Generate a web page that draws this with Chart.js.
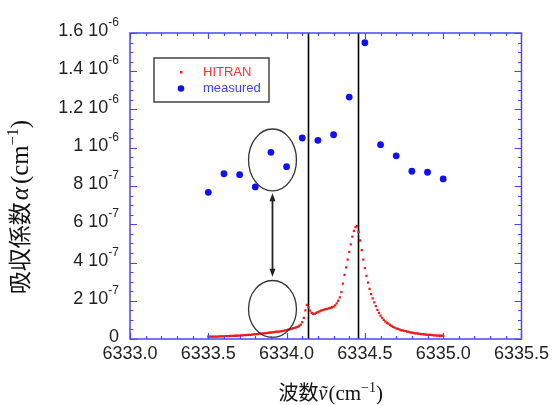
<!DOCTYPE html>
<html lang="ja">
<head>
<meta charset="UTF-8">
<title>吸収係数</title>
<script src="https://cdn.jsdelivr.net/npm/chart.js"></script>
<style>
  html, body { margin: 0; padding: 0; background: #fff; }
  #c { display: block; }
</style>
</head>
<body>
<canvas id="c" width="553" height="405"></canvas>
<script>
// measured absorption coefficient, in units of 10^-6 cm^-1
const measuredX = [6333.5, 6333.6, 6333.7, 6333.8, 6333.9, 6334.0, 6334.1, 6334.2,
                   6334.3, 6334.4, 6334.5, 6334.6, 6334.7, 6334.8, 6334.9, 6335.0];
const measuredY = [0.767, 0.864, 0.859, 0.795, 0.976, 0.901, 1.051, 1.039,
                   1.068, 1.265, 1.549, 1.016, 0.958, 0.877, 0.872, 0.837];

// HITRAN spectrum, sampled every 0.01 cm^-1 from 6333.50
const hitranStart = 6333.5;
const hitranStep = 0.01;
const hitranY = [
  0.012, 0.012, 0.012, 0.013, 0.013, 0.013, 0.013, 0.014, 0.014, 0.014,
  0.014, 0.015, 0.015, 0.015, 0.016, 0.016, 0.016, 0.017, 0.017, 0.018,
  0.018, 0.019, 0.019, 0.020, 0.020, 0.021, 0.022, 0.022, 0.023, 0.024,
  0.025, 0.026, 0.027, 0.028, 0.028, 0.029, 0.030, 0.031, 0.032, 0.033,
  0.034, 0.035, 0.036, 0.037, 0.038, 0.039, 0.040, 0.041, 0.043, 0.045,
  0.047, 0.049, 0.051, 0.053, 0.055, 0.058, 0.061, 0.064, 0.068, 0.075,
  0.088, 0.110, 0.150, 0.178, 0.165, 0.148, 0.137, 0.132, 0.131, 0.137,
  0.141, 0.145, 0.148, 0.151, 0.154, 0.156, 0.158, 0.160, 0.163, 0.166,
  0.169, 0.176, 0.186, 0.200, 0.218, 0.245, 0.290, 0.335, 0.375, 0.415,
  0.455, 0.495, 0.535, 0.565, 0.585, 0.590, 0.560, 0.515, 0.465, 0.415,
  0.370, 0.330, 0.295, 0.262, 0.235, 0.212, 0.192, 0.172, 0.152, 0.136,
  0.122, 0.110, 0.100, 0.092, 0.085, 0.080, 0.074, 0.069, 0.064, 0.060,
  0.056, 0.053, 0.050, 0.047, 0.045, 0.043, 0.041, 0.039, 0.037, 0.035,
  0.033, 0.032, 0.030, 0.029, 0.028, 0.027, 0.026, 0.025, 0.024, 0.023,
  0.022, 0.021, 0.021, 0.020, 0.019, 0.019, 0.018, 0.018, 0.017, 0.017,
  0.016
];

// vertical marker lines (cm^-1)
const lineCenters = [6334.137, 6334.459];

const xMin = 6333.0, xMax = 6335.5;
const yMin = 0, yMax = 1.6;

const AXIS = 'rgb(72,72,250)';
const SANS = "'Liberation Sans', Arial, sans-serif";
const SERIF = "'Liberation Serif', 'DejaVu Serif', serif";
const CJK = "'Noto Sans CJK JP', sans-serif";

const hitranPts = hitranY.map((v, i) => ({ x: hitranStart + i * hitranStep, y: v }));
const measuredPts = measuredX.map((x, i) => ({ x: x, y: measuredY[i] }));

// draws a row of text pieces centred on (cx, cy), optionally rotated
function drawRun(ctx, parts, cx, cy, angle) {
  ctx.save();
  ctx.translate(cx, cy);
  if (angle) ctx.rotate(angle);
  ctx.textBaseline = 'alphabetic';
  ctx.textAlign = 'left';
  let total = 0;
  parts.forEach(p => { ctx.font = p.font; p.w = ctx.measureText(p.text).width + (p.gap || 0); total += p.w; });
  let x = -total / 2;
  parts.forEach(p => {
    ctx.font = p.font;
    ctx.fillStyle = '#111';
    ctx.fillText(p.text, x, 7 + (p.dy || 0));
    x += p.w;
  });
  ctx.restore();
}

const decorations = {
  id: 'decorations',
  beforeDatasetsDraw(chart) {
    const { ctx, chartArea: a, scales: { x } } = chart;
    ctx.save();
    ctx.strokeStyle = '#000';
    ctx.lineWidth = 1.6;
    lineCenters.forEach(c => {
      const px = Math.round(x.getPixelForValue(c)) + 0.5;
      ctx.beginPath();
      ctx.moveTo(px, a.top);
      ctx.lineTo(px, a.bottom);
      ctx.stroke();
    });
    ctx.restore();
  },
  afterDatasetsDraw(chart) {
    const { ctx, chartArea: a, scales: { x, y } } = chart;
    ctx.save();

    // circled groups and the arrow between them
    const ring = (cx, cy, rx, ry) => {
      ctx.beginPath();
      ctx.ellipse(x.getPixelForValue(cx), y.getPixelForValue(cy),
        Math.abs(x.getPixelForValue(cx + rx) - x.getPixelForValue(cx)),
        Math.abs(y.getPixelForValue(cy + ry) - y.getPixelForValue(cy)), 0, 0, Math.PI * 2);
      ctx.stroke();
    };
    ctx.strokeStyle = '#333';
    ctx.lineWidth = 1.3;
    ring(6333.91, 0.936, 0.153, 0.162);
    ring(6333.91, 0.157, 0.153, 0.149);

    const ax = x.getPixelForValue(6333.91);
    const y1 = y.getPixelForValue(0.762), y2 = y.getPixelForValue(0.326);
    ctx.strokeStyle = '#222';
    ctx.fillStyle = '#222';
    ctx.lineWidth = 1.8;
    ctx.beginPath();
    ctx.moveTo(ax, y1 + 6);
    ctx.lineTo(ax, y2 - 6);
    ctx.stroke();
    const head = (tipY, dir) => {
      ctx.beginPath();
      ctx.moveTo(ax, tipY);
      ctx.lineTo(ax - 3, tipY + dir * 8);
      ctx.lineTo(ax + 3, tipY + dir * 8);
      ctx.closePath();
      ctx.fill();
    };
    head(y1, 1);
    head(y2, -1);

    // frame with inward ticks on all four sides
    ctx.strokeStyle = AXIS;
    ctx.lineWidth = 1.5;
    ctx.strokeRect(a.left, a.top, a.right - a.left, a.bottom - a.top);
    ctx.lineWidth = 1.2;
    ctx.beginPath();
    for (let i = 0; i <= 25; i++) {
      const px = Math.round(x.getPixelForValue(xMin + i * 0.1)) + 0.5;
      const len = i % 5 === 0 ? 6 : 3;
      ctx.moveTo(px, a.bottom); ctx.lineTo(px, a.bottom - len);
      ctx.moveTo(px, a.top); ctx.lineTo(px, a.top + len);
    }
    for (let i = 0; i <= 32; i++) {
      const py = Math.round(y.getPixelForValue(yMin + i * 0.05)) + 0.5;
      const len = i % 4 === 0 ? 7 : 3.5;
      ctx.moveTo(a.left, py); ctx.lineTo(a.left + len, py);
      ctx.moveTo(a.right, py); ctx.lineTo(a.right - len, py);
    }
    ctx.stroke();

    // legend box
    const lx = a.left + 24, ly = a.top + 25;
    ctx.strokeStyle = '#444';
    ctx.lineWidth = 1.5;
    ctx.strokeRect(lx, ly, 115, 44);
    ctx.fillStyle = '#f01c1c';
    ctx.fillRect(lx + 26, ly + 13, 2.5, 2.5);
    ctx.fillStyle = '#1010f0';
    ctx.beginPath();
    ctx.arc(lx + 27, ly + 30.5, 3.3, 0, Math.PI * 2);
    ctx.fill();
    ctx.font = '13px ' + SANS;
    ctx.textBaseline = 'middle';
    ctx.fillStyle = '#ff3030';
    ctx.fillText('HITRAN', lx + 49, ly + 14);
    ctx.fillStyle = '#4040ff';
    ctx.fillText('measured', lx + 49, ly + 30.5);

    // y tick labels written as "m 10^e"
    y.ticks.forEach(t => {
      const v = t.value;
      const py = y.getPixelForValue(v) + 3;
      const right = a.left - 11;
      ctx.fillStyle = '#222';
      ctx.textBaseline = 'alphabetic';
      ctx.textAlign = 'right';
      if (Math.abs(v) < 1e-9) {
        ctx.font = '18px ' + SANS;
        ctx.fillText('0', right, py);
        return;
      }
      const exp = v >= 0.999 ? -6 : -7;
      const mant = +(v * (exp === -6 ? 1 : 10)).toFixed(1);
      ctx.font = '12px ' + SANS;
      const sup = String(exp);
      const sw = ctx.measureText(sup).width;
      ctx.fillText(sup, right, py - 10);
      ctx.font = '18px ' + SANS;
      ctx.fillText(mant + ' 10', right - sw, py);
    });
    ctx.textAlign = 'left';

    // axis titles
    drawRun(ctx, [
      { text: '波数', font: '20px ' + CJK },
      { text: 'ṽ', font: 'italic 20px ' + SERIF, gap: 1 },
      { text: '(cm', font: '21px ' + SERIF },
      { text: '−1', font: '14px ' + SERIF, dy: -8 },
      { text: ')', font: '21px ' + SERIF }
    ], (a.left + a.right) / 2 + 5, 393, 0);
    drawRun(ctx, [
      { text: '吸収係数', font: '23px ' + CJK, gap: 2 },
      { text: 'α', font: 'italic 25px ' + SERIF, gap: 3 },
      { text: '(cm', font: '25px ' + SERIF },
      { text: '−1', font: '16px ' + SERIF, dy: -10 },
      { text: ')', font: '25px ' + SERIF }
    ], 21, 207, -Math.PI / 2);

    ctx.restore();
  }
};

new Chart(document.getElementById('c'), {
  type: 'scatter',
  data: {
    datasets: [
      {
        label: 'HITRAN',
        data: hitranPts,
        pointStyle: 'rect',
        pointRadius: 1.6,
        pointBorderWidth: 0,
        backgroundColor: '#f01c1c',
        borderColor: '#f01c1c'
      },
      {
        label: 'measured',
        data: measuredPts,
        pointRadius: 3.4,
        pointBorderWidth: 0,
        backgroundColor: '#1010f0',
        borderColor: '#1010f0'
      }
    ]
  },
  options: {
    responsive: false,
    animation: false,
    devicePixelRatio: 1,
    layout: { padding: { left: 0, top: 33, right: 30, bottom: 0 } },
    plugins: { legend: { display: false }, tooltip: { enabled: false } },
    scales: {
      x: {
        type: 'linear',
        min: xMin,
        max: xMax,
        border: { display: false },
        grid: { display: false, drawTicks: false },
        ticks: {
          stepSize: 0.5,
          padding: 4,
          color: '#222',
          font: { family: SANS, size: 18 },
          maxRotation: 0,
          callback: v => v.toFixed(1)
        },
        afterFit: s => { s.height = 66; }
      },
      y: {
        min: yMin,
        max: yMax,
        border: { display: false },
        grid: { display: false, drawTicks: false },
        ticks: { stepSize: 0.2, display: false },
        afterFit: s => { s.width = 130; }
      }
    }
  },
  plugins: [decorations]
});
</script>
</body>
</html>
